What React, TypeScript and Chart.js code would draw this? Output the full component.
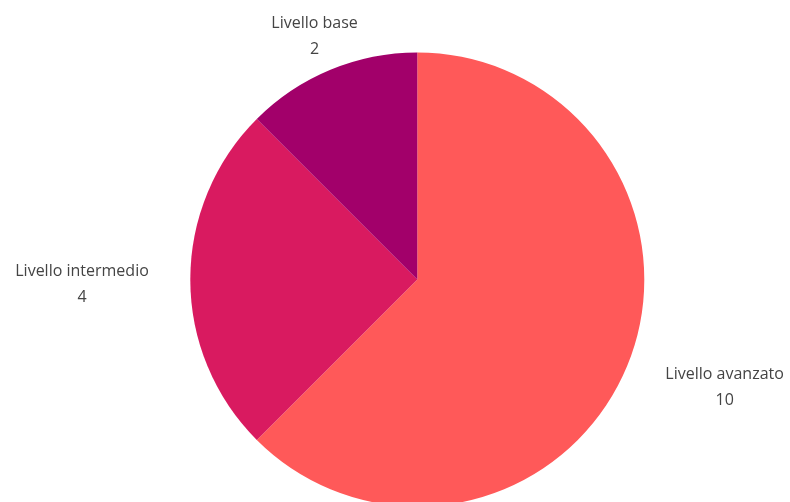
import React, { useEffect, useRef } from "react";
import { Chart, registerables } from "chart.js";

Chart.register(...registerables);

const categories = ["Livello avanzato", "Livello intermedio", "Livello base"];
const values = [10, 4, 2];
const colors = ["#FF5959", "#D91A60", "#A2006A"];

const labelPlugin = {
  id: "outerLabels",
  afterDraw(chart: any) {
    const ctx = chart.ctx;
    const meta = chart.getDatasetMeta(0);
    ctx.save();
    ctx.font = '16px "Open Sans"';
    ctx.fillStyle = "#444444";
    ctx.textBaseline = "middle";
    meta.data.forEach((arc: any, i: number) => {
      const mid = (arc.startAngle + arc.endAngle) / 2;
      const d = arc.outerRadius + 41.5;
      const cx = Math.cos(mid);
      const cy = Math.sin(mid);
      const ax = arc.x + d * cx;
      const ay = arc.y + d * cy;
      let align = "center";
      if (Math.abs(cx) >= 0.5) align = cx > 0 ? "left" : "right";
      const name = categories[i];
      const val = String(values[i]);
      const w = ctx.measureText(name).width;
      const centerX = align === "center" ? ax : align === "left" ? ax + w / 2 : ax - w / 2;
      ctx.textAlign = "center";
      ctx.fillText(name, centerX, ay - 8);
      ctx.fillText(val, centerX, ay + 18);
    });
    ctx.restore();
  },
};

export default function App() {
  const ref = useRef<HTMLCanvasElement>(null);
  useEffect(() => {
    document.body.style.margin = "0";
    const chart = new Chart(ref.current!, {
      type: "pie",
      data: {
        labels: categories,
        datasets: [
          {
            data: values,
            backgroundColor: colors,
            borderWidth: 0,
          },
        ],
      },
      options: {
        responsive: false,
        animation: false,
        devicePixelRatio: 1,
        layout: {
          padding: { left: 190.3, right: 145.7, top: 52.5, bottom: 53.5 },
        },
        plugins: {
          legend: { display: false },
          tooltip: { enabled: false },
        },
      },
      plugins: [labelPlugin],
    });
    return () => chart.destroy();
  }, []);
  return (
    <div style={{ position: "absolute", left: 0, top: 0, width: 790, height: 502, overflow: "hidden", background: "#fff" }}>
      <canvas ref={ref} width={790} height={560} />
    </div>
  );
}
